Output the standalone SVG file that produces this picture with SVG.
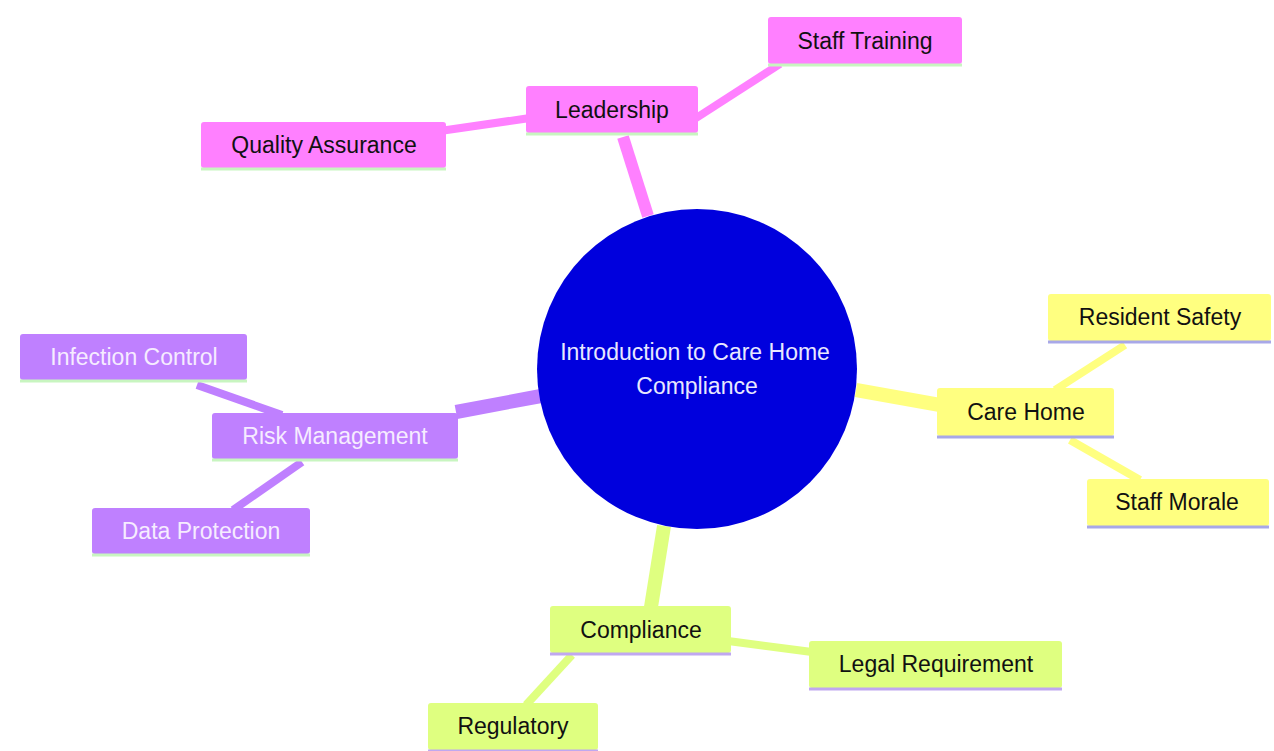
<svg xmlns="http://www.w3.org/2000/svg" width="1274" height="751" viewBox="0 0 1274 751">
<style>
text{font-family:"Liberation Sans",Arial,sans-serif;font-size:23px;text-anchor:middle;dominant-baseline:central}
.e{fill:none;stroke-linecap:butt}
.p{fill:#ff80ff}.pu{fill:#bf80ff}.y{fill:#ffff80}.g{fill:#dfff80}
.pl{stroke:#c8f5c0;stroke-width:3}
.yl{stroke:#a8a8e8;stroke-width:3}
.gl{stroke:#c0a8f0;stroke-width:3}
.dk{fill:#111}
.lt{fill:#f6ecff}
</style>
<rect width="1274" height="751" fill="#ffffff"/>
<g id="connectors">
<line class="e" x1="623" y1="137" x2="648" y2="216" stroke="#ff80ff" stroke-width="12"/>
<line class="e" x1="690" y1="122" x2="780" y2="64" stroke="#ff80ff" stroke-width="8"/>
<line class="e" x1="440" y1="131" x2="530" y2="118" stroke="#ff80ff" stroke-width="8"/>
<line class="e" x1="456" y1="412" x2="541" y2="396" stroke="#bf80ff" stroke-width="14"/>
<line class="e" x1="197" y1="385" x2="282" y2="415" stroke="#bf80ff" stroke-width="8"/>
<line class="e" x1="302" y1="462" x2="233" y2="510" stroke="#bf80ff" stroke-width="8"/>
<line class="e" x1="856" y1="390" x2="940" y2="405" stroke="#ffff80" stroke-width="14"/>
<line class="e" x1="1055" y1="390" x2="1125" y2="345" stroke="#ffff80" stroke-width="8"/>
<line class="e" x1="1070" y1="440" x2="1140" y2="480" stroke="#ffff80" stroke-width="8"/>
<line class="e" x1="664" y1="526" x2="651" y2="607" stroke="#dfff80" stroke-width="14"/>
<line class="e" x1="728" y1="641" x2="812" y2="652" stroke="#dfff80" stroke-width="8"/>
<line class="e" x1="572" y1="655" x2="526" y2="705" stroke="#dfff80" stroke-width="8"/>
</g>
<g id="center">
<circle cx="697" cy="369" r="160" fill="#0000dd"/>
<text x="695" y="352" fill="#e8e8ff">Introduction to Care Home</text>
<text x="697" y="386" fill="#e8e8ff">Compliance</text>
</g>
<g id="leadership">
<rect class="p" x="526" y="86" width="172" height="47" rx="3"/>
<line class="pl" x1="526" y1="134" x2="698" y2="134"/>
<text class="dk" x="612" y="110">Leadership</text>
</g>
<g id="staff-training">
<rect class="p" x="768" y="17" width="194" height="47" rx="3"/>
<line class="pl" x1="768" y1="65" x2="962" y2="65"/>
<text class="dk" x="865" y="41">Staff Training</text>
</g>
<g id="quality-assurance">
<rect class="p" x="201" y="122" width="245" height="46" rx="3"/>
<line class="pl" x1="201" y1="169" x2="446" y2="169"/>
<text class="dk" x="324" y="145">Quality Assurance</text>
</g>
<g id="risk-management">
<rect class="pu" x="212" y="413" width="246" height="46" rx="3"/>
<line class="pl" x1="212" y1="460" x2="458" y2="460"/>
<text class="lt" x="335" y="436">Risk Management</text>
</g>
<g id="infection-control">
<rect class="pu" x="20" y="334" width="227" height="46" rx="3"/>
<line class="pl" x1="20" y1="381" x2="247" y2="381"/>
<text class="lt" x="134" y="357">Infection Control</text>
</g>
<g id="data-protection">
<rect class="pu" x="92" y="508" width="218" height="46" rx="3"/>
<line class="pl" x1="92" y1="555" x2="310" y2="555"/>
<text class="lt" x="201" y="531">Data Protection</text>
</g>
<g id="care-home">
<rect class="y" x="937" y="388" width="177" height="48" rx="3"/>
<line class="yl" x1="937" y1="437" x2="1114" y2="437"/>
<text class="dk" x="1026" y="412">Care Home</text>
</g>
<g id="resident-safety">
<rect class="y" x="1048" y="294" width="223" height="47" rx="3"/>
<line class="yl" x1="1048" y1="342" x2="1271" y2="342"/>
<text class="dk" x="1160" y="317">Resident Safety</text>
</g>
<g id="staff-morale">
<rect class="y" x="1087" y="479" width="182" height="47" rx="3"/>
<line class="yl" x1="1087" y1="527" x2="1269" y2="527"/>
<text class="dk" x="1177" y="502">Staff Morale</text>
</g>
<g id="compliance">
<rect class="g" x="550" y="606" width="181" height="47" rx="3"/>
<line class="gl" x1="550" y1="654" x2="731" y2="654"/>
<text class="dk" x="641" y="630">Compliance</text>
</g>
<g id="legal-requirement">
<rect class="g" x="809" y="641" width="253" height="47" rx="3"/>
<line class="gl" x1="809" y1="689" x2="1062" y2="689"/>
<text class="dk" x="936" y="664">Legal Requirement</text>
</g>
<g id="regulatory">
<rect class="g" x="428" y="703" width="170" height="47" rx="3"/>
<line class="gl" x1="428" y1="751" x2="598" y2="751"/>
<text class="dk" x="513" y="726">Regulatory</text>
</g>
</svg>
